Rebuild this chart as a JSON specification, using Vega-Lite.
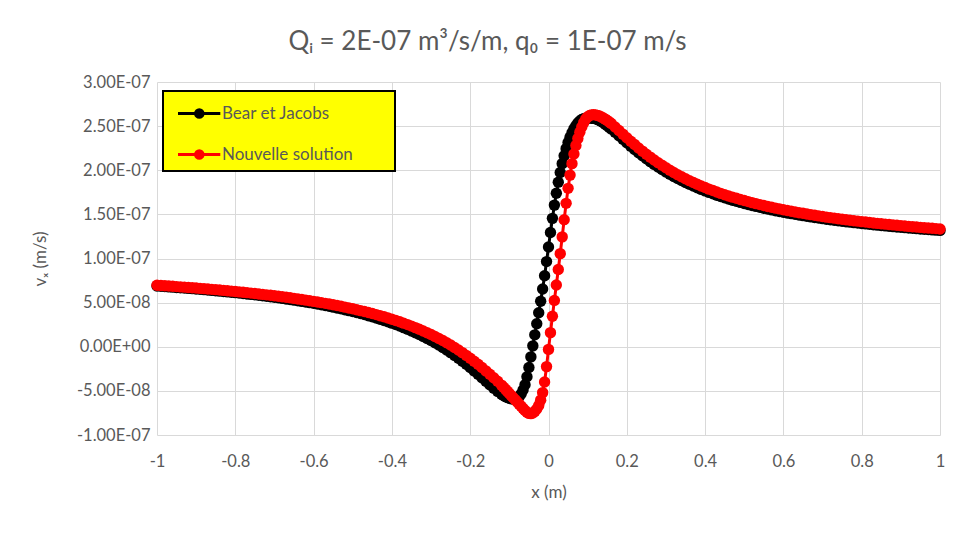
{
"$schema": "https://vega.github.io/schema/vega-lite/v6.json",
"width": 783,
"height": 353,
"autosize": {"type": "none"},
"padding": {"left": 157, "top": 82, "right": 19, "bottom": 105},
"background": "white",
"config": {"view": {"stroke": null}, "font": "Lato"},
"title": {"text": "Q\u1d62 = 2E-07 m\u00b3/s/m, q\u2080 = 1E-07 m/s", "fontSize": 26, "font": "Lato", "fontWeight": "normal", "color": "#595959", "anchor": "middle", "dx": -61, "offset": 19},
"data": {"values": [
{"x":-1,"b":6.879e-8,"r":6.967e-8},
{"x":-0.99,"b":6.848e-8,"r":6.939e-8},
{"x":-0.98,"b":6.817e-8,"r":6.909e-8},
{"x":-0.97,"b":6.785e-8,"r":6.879e-8},
{"x":-0.96,"b":6.753e-8,"r":6.848e-8},
{"x":-0.95,"b":6.720e-8,"r":6.817e-8},
{"x":-0.94,"b":6.686e-8,"r":6.785e-8},
{"x":-0.93,"b":6.652e-8,"r":6.753e-8},
{"x":-0.92,"b":6.616e-8,"r":6.720e-8},
{"x":-0.91,"b":6.581e-8,"r":6.686e-8},
{"x":-0.9,"b":6.544e-8,"r":6.652e-8},
{"x":-0.89,"b":6.506e-8,"r":6.616e-8},
{"x":-0.88,"b":6.468e-8,"r":6.581e-8},
{"x":-0.87,"b":6.429e-8,"r":6.544e-8},
{"x":-0.86,"b":6.389e-8,"r":6.506e-8},
{"x":-0.85,"b":6.348e-8,"r":6.468e-8},
{"x":-0.84,"b":6.306e-8,"r":6.429e-8},
{"x":-0.83,"b":6.264e-8,"r":6.389e-8},
{"x":-0.82,"b":6.220e-8,"r":6.348e-8},
{"x":-0.81,"b":6.175e-8,"r":6.306e-8},
{"x":-0.8,"b":6.129e-8,"r":6.264e-8},
{"x":-0.79,"b":6.082e-8,"r":6.220e-8},
{"x":-0.78,"b":6.034e-8,"r":6.175e-8},
{"x":-0.77,"b":5.985e-8,"r":6.129e-8},
{"x":-0.76,"b":5.935e-8,"r":6.082e-8},
{"x":-0.75,"b":5.883e-8,"r":6.034e-8},
{"x":-0.74,"b":5.830e-8,"r":5.985e-8},
{"x":-0.73,"b":5.776e-8,"r":5.935e-8},
{"x":-0.72,"b":5.720e-8,"r":5.883e-8},
{"x":-0.71,"b":5.663e-8,"r":5.830e-8},
{"x":-0.7,"b":5.604e-8,"r":5.776e-8},
{"x":-0.69,"b":5.544e-8,"r":5.720e-8},
{"x":-0.68,"b":5.482e-8,"r":5.663e-8},
{"x":-0.67,"b":5.418e-8,"r":5.604e-8},
{"x":-0.66,"b":5.353e-8,"r":5.544e-8},
{"x":-0.65,"b":5.286e-8,"r":5.482e-8},
{"x":-0.64,"b":5.216e-8,"r":5.418e-8},
{"x":-0.63,"b":5.145e-8,"r":5.353e-8},
{"x":-0.62,"b":5.072e-8,"r":5.286e-8},
{"x":-0.61,"b":4.996e-8,"r":5.216e-8},
{"x":-0.6,"b":4.919e-8,"r":5.145e-8},
{"x":-0.59,"b":4.838e-8,"r":5.072e-8},
{"x":-0.58,"b":4.756e-8,"r":4.996e-8},
{"x":-0.57,"b":4.670e-8,"r":4.919e-8},
{"x":-0.56,"b":4.583e-8,"r":4.838e-8},
{"x":-0.55,"b":4.492e-8,"r":4.756e-8},
{"x":-0.54,"b":4.398e-8,"r":4.670e-8},
{"x":-0.53,"b":4.301e-8,"r":4.583e-8},
{"x":-0.52,"b":4.201e-8,"r":4.492e-8},
{"x":-0.51,"b":4.097e-8,"r":4.398e-8},
{"x":-0.5,"b":3.990e-8,"r":4.301e-8},
{"x":-0.49,"b":3.879e-8,"r":4.201e-8},
{"x":-0.48,"b":3.764e-8,"r":4.097e-8},
{"x":-0.47,"b":3.645e-8,"r":3.990e-8},
{"x":-0.46,"b":3.521e-8,"r":3.879e-8},
{"x":-0.45,"b":3.393e-8,"r":3.764e-8},
{"x":-0.44,"b":3.260e-8,"r":3.645e-8},
{"x":-0.43,"b":3.121e-8,"r":3.521e-8},
{"x":-0.42,"b":2.977e-8,"r":3.393e-8},
{"x":-0.41,"b":2.828e-8,"r":3.260e-8},
{"x":-0.4,"b":2.672e-8,"r":3.121e-8},
{"x":-0.39,"b":2.511e-8,"r":2.977e-8},
{"x":-0.38,"b":2.342e-8,"r":2.828e-8},
{"x":-0.37,"b":2.166e-8,"r":2.672e-8},
{"x":-0.36,"b":1.983e-8,"r":2.511e-8},
{"x":-0.35,"b":1.792e-8,"r":2.342e-8},
{"x":-0.34,"b":1.592e-8,"r":2.166e-8},
{"x":-0.33,"b":1.384e-8,"r":1.983e-8},
{"x":-0.32,"b":1.166e-8,"r":1.792e-8},
{"x":-0.31,"b":0.938e-8,"r":1.592e-8},
{"x":-0.3,"b":0.700e-8,"r":1.384e-8},
{"x":-0.29,"b":0.451e-8,"r":1.166e-8},
{"x":-0.28,"b":0.191e-8,"r":0.938e-8},
{"x":-0.27,"b":-0.082e-8,"r":0.700e-8},
{"x":-0.26,"b":-0.367e-8,"r":0.451e-8},
{"x":-0.25,"b":-0.665e-8,"r":0.191e-8},
{"x":-0.24,"b":-0.976e-8,"r":-0.082e-8},
{"x":-0.23,"b":-1.301e-8,"r":-0.367e-8},
{"x":-0.22,"b":-1.639e-8,"r":-0.665e-8},
{"x":-0.21,"b":-1.991e-8,"r":-0.976e-8},
{"x":-0.2,"b":-2.355e-8,"r":-1.301e-8},
{"x":-0.19,"b":-2.732e-8,"r":-1.639e-8},
{"x":-0.18,"b":-3.119e-8,"r":-1.991e-8},
{"x":-0.17,"b":-3.513e-8,"r":-2.355e-8},
{"x":-0.16,"b":-3.910e-8,"r":-2.732e-8},
{"x":-0.15,"b":-4.306e-8,"r":-3.119e-8},
{"x":-0.14,"b":-4.691e-8,"r":-3.513e-8},
{"x":-0.13,"b":-5.055e-8,"r":-3.910e-8},
{"x":-0.12,"b":-5.383e-8,"r":-4.35e-8},
{"x":-0.115,"b":-5.527e-8,"r":-4.58e-8},
{"x":-0.11,"b":-5.654e-8,"r":-4.82e-8},
{"x":-0.105,"b":-5.761e-8,"r":-5.06e-8},
{"x":-0.1,"b":-5.843e-8,"r":-5.30e-8},
{"x":-0.095,"b":-5.896e-8,"r":-5.54e-8},
{"x":-0.09,"b":-5.915e-8,"r":-5.78e-8},
{"x":-0.085,"b":-5.894e-8,"r":-6.02e-8},
{"x":-0.08,"b":-5.82e-8,"r":-6.26e-8},
{"x":-0.075,"b":-5.65e-8,"r":-6.50e-8},
{"x":-0.07,"b":-5.35e-8,"r":-6.74e-8},
{"x":-0.065,"b":-4.90e-8,"r":-6.98e-8},
{"x":-0.06,"b":-4.30e-8,"r":-7.22e-8},
{"x":-0.055,"b":-3.40e-8,"r":-7.42e-8},
{"x":-0.05,"b":-2.35e-8,"r":-7.55e-8},
{"x":-0.045,"b":-1.15e-8,"r":-7.58e-8},
{"x":-0.04,"b":0.10e-8,"r":-7.50e-8},
{"x":-0.035,"b":1.35e-8,"r":-7.32e-8},
{"x":-0.03,"b":2.60e-8,"r":-7.05e-8},
{"x":-0.025,"b":3.85e-8,"r":-6.65e-8},
{"x":-0.02,"b":5.15e-8,"r":-6.05e-8},
{"x":-0.015,"b":6.55e-8,"r":-5.20e-8},
{"x":-0.01,"b":8.05e-8,"r":-4.00e-8},
{"x":-0.005,"b":9.65e-8,"r":-2.25e-8},
{"x":0,"b":11.30e-8,"r":-0.30e-8},
{"x":0.005,"b":12.95e-8,"r":1.60e-8},
{"x":0.01,"b":14.55e-8,"r":3.45e-8},
{"x":0.015,"b":16.05e-8,"r":5.25e-8},
{"x":0.02,"b":17.40e-8,"r":7.00e-8},
{"x":0.025,"b":18.65e-8,"r":8.75e-8},
{"x":0.03,"b":19.75e-8,"r":10.55e-8},
{"x":0.035,"b":20.75e-8,"r":12.45e-8},
{"x":0.04,"b":21.65e-8,"r":14.40e-8},
{"x":0.045,"b":22.45e-8,"r":16.25e-8},
{"x":0.05,"b":23.15e-8,"r":17.95e-8},
{"x":0.055,"b":23.75e-8,"r":19.45e-8},
{"x":0.06,"b":24.25e-8,"r":20.75e-8},
{"x":0.065,"b":24.70e-8,"r":21.85e-8},
{"x":0.07,"b":25.05e-8,"r":22.80e-8},
{"x":0.075,"b":25.35e-8,"r":23.60e-8},
{"x":0.08,"b":25.58e-8,"r":24.30e-8},
{"x":0.085,"b":25.75e-8,"r":24.90e-8},
{"x":0.09,"b":25.85e-8,"r":25.40e-8},
{"x":0.095,"b":25.90e-8,"r":25.80e-8},
{"x":0.1,"b":25.92e-8,"r":26.05e-8},
{"x":0.105,"b":25.92e-8,"r":26.20e-8},
{"x":0.11,"b":25.90e-8,"r":26.28e-8},
{"x":0.115,"b":25.896e-8,"r":26.30e-8},
{"x":0.12,"b":25.843e-8,"r":26.28e-8},
{"x":0.125,"b":25.761e-8,"r":26.22e-8},
{"x":0.13,"b":25.654e-8,"r":26.14e-8},
{"x":0.135,"b":25.527e-8,"r":26.04e-8},
{"x":0.14,"b":25.383e-8,"r":25.92e-8},
{"x":0.145,"b":25.224e-8,"r":25.79e-8},
{"x":0.15,"b":25.055e-8,"r":25.64e-8},
{"x":0.155,"b":24.876e-8,"r":25.48e-8},
{"x":0.16,"b":24.691e-8,"r":25.31e-8},
{"x":0.17,"b":24.306e-8,"r":24.91e-8},
{"x":0.18,"b":23.910e-8,"r":24.50e-8},
{"x":0.19,"b":23.513e-8,"r":24.09e-8},
{"x":0.2,"b":23.119e-8,"r":23.69e-8},
{"x":0.21,"b":22.732e-8,"r":23.29e-8},
{"x":0.22,"b":22.355e-8,"r":22.91e-8},
{"x":0.23,"b":21.991e-8,"r":22.53e-8},
{"x":0.24,"b":21.639e-8,"r":22.17e-8},
{"x":0.25,"b":21.301e-8,"r":21.82e-8},
{"x":0.26,"b":20.976e-8,"r":21.49e-8},
{"x":0.27,"b":20.665e-8,"r":21.17e-8},
{"x":0.28,"b":20.367e-8,"r":20.86e-8},
{"x":0.29,"b":20.082e-8,"r":20.56e-8},
{"x":0.3,"b":19.809e-8,"r":20.28e-8},
{"x":0.31,"b":19.549e-8,"r":20.01e-8},
{"x":0.32,"b":19.300e-8,"r":19.75e-8},
{"x":0.33,"b":19.062e-8,"r":19.50e-8},
{"x":0.34,"b":18.834e-8,"r":19.26e-8},
{"x":0.35,"b":18.616e-8,"r":19.04e-8},
{"x":0.36,"b":18.408e-8,"r":18.82e-8},
{"x":0.37,"b":18.208e-8,"r":18.61e-8},
{"x":0.38,"b":18.017e-8,"r":18.41e-8},
{"x":0.39,"b":17.834e-8,"r":18.22e-8},
{"x":0.4,"b":17.658e-8,"r":18.04e-8},
{"x":0.41,"b":17.489e-8,"r":17.86e-8},
{"x":0.42,"b":17.328e-8,"r":17.70e-8},
{"x":0.43,"b":17.172e-8,"r":17.54e-8},
{"x":0.44,"b":17.023e-8,"r":17.38e-8},
{"x":0.45,"b":16.879e-8,"r":17.23e-8},
{"x":0.46,"b":16.740e-8,"r":17.09e-8},
{"x":0.47,"b":16.607e-8,"r":16.95e-8},
{"x":0.48,"b":16.479e-8,"r":16.82e-8},
{"x":0.49,"b":16.355e-8,"r":16.69e-8},
{"x":0.5,"b":16.236e-8,"r":16.57e-8},
{"x":0.51,"b":16.121e-8,"r":16.45e-8},
{"x":0.52,"b":16.010e-8,"r":16.33e-8},
{"x":0.53,"b":15.903e-8,"r":16.22e-8},
{"x":0.54,"b":15.799e-8,"r":16.11e-8},
{"x":0.55,"b":15.699e-8,"r":16.00e-8},
{"x":0.56,"b":15.602e-8,"r":15.90e-8},
{"x":0.57,"b":15.508e-8,"r":15.80e-8},
{"x":0.58,"b":15.417e-8,"r":15.71e-8},
{"x":0.59,"b":15.330e-8,"r":15.62e-8},
{"x":0.6,"b":15.244e-8,"r":15.52e-8},
{"x":0.61,"b":15.162e-8,"r":15.44e-8},
{"x":0.62,"b":15.081e-8,"r":15.35e-8},
{"x":0.63,"b":15.004e-8,"r":15.27e-8},
{"x":0.64,"b":14.928e-8,"r":15.19e-8},
{"x":0.65,"b":14.855e-8,"r":15.12e-8},
{"x":0.66,"b":14.784e-8,"r":15.04e-8},
{"x":0.67,"b":14.714e-8,"r":14.97e-8},
{"x":0.68,"b":14.647e-8,"r":14.90e-8},
{"x":0.69,"b":14.582e-8,"r":14.83e-8},
{"x":0.7,"b":14.518e-8,"r":14.76e-8},
{"x":0.71,"b":14.456e-8,"r":14.69e-8},
{"x":0.72,"b":14.396e-8,"r":14.63e-8},
{"x":0.73,"b":14.337e-8,"r":14.57e-8},
{"x":0.74,"b":14.280e-8,"r":14.51e-8},
{"x":0.75,"b":14.224e-8,"r":14.45e-8},
{"x":0.76,"b":14.170e-8,"r":14.39e-8},
{"x":0.77,"b":14.117e-8,"r":14.34e-8},
{"x":0.78,"b":14.065e-8,"r":14.28e-8},
{"x":0.79,"b":14.015e-8,"r":14.23e-8},
{"x":0.8,"b":13.966e-8,"r":14.18e-8},
{"x":0.81,"b":13.918e-8,"r":14.13e-8},
{"x":0.82,"b":13.871e-8,"r":14.08e-8},
{"x":0.83,"b":13.825e-8,"r":14.03e-8},
{"x":0.84,"b":13.780e-8,"r":13.98e-8},
{"x":0.85,"b":13.736e-8,"r":13.94e-8},
{"x":0.86,"b":13.694e-8,"r":13.89e-8},
{"x":0.87,"b":13.652e-8,"r":13.85e-8},
{"x":0.88,"b":13.611e-8,"r":13.81e-8},
{"x":0.89,"b":13.571e-8,"r":13.76e-8},
{"x":0.9,"b":13.532e-8,"r":13.72e-8},
{"x":0.91,"b":13.494e-8,"r":13.68e-8},
{"x":0.92,"b":13.456e-8,"r":13.64e-8},
{"x":0.93,"b":13.419e-8,"r":13.60e-8},
{"x":0.94,"b":13.384e-8,"r":13.57e-8},
{"x":0.95,"b":13.348e-8,"r":13.53e-8},
{"x":0.96,"b":13.314e-8,"r":13.49e-8},
{"x":0.97,"b":13.280e-8,"r":13.46e-8},
{"x":0.98,"b":13.247e-8,"r":13.42e-8},
{"x":0.99,"b":13.215e-8,"r":13.39e-8},
{"x":1,"b":13.183e-8,"r":13.35e-8}
]},
"encoding": {
  "x": {"field": "x", "type": "quantitative",
    "scale": {"domain": [-1, 1], "nice": false, "zero": false},
    "axis": {"title": "x (m)", "values": [-1,-0.8,-0.6,-0.4,-0.2,0,0.2,0.4,0.6,0.8,1],
      "labelExpr": "toString(datum.value)", "labelFlush": false, "labelOverlap": false,
      "labelFont": "Lato", "labelFontSize": 16.5, "labelColor": "#595959", "labelPadding": 18,
      "ticks": false, "domain": false, "grid": true, "gridColor": "#d9d9d9", "gridWidth": 1,
      "titleFont": "Lato", "titleFontSize": 17, "titleColor": "#595959", "titleFontWeight": "normal", "titlePadding": 15}}
},
"layer": [
  {"mark": {"type": "line", "strokeWidth": 3, "point": {"filled": true, "size": 130, "opacity": 1}},
   "encoding": {
     "y": {"field": "b", "type": "quantitative",
       "scale": {"domain": [-1e-7, 3e-7], "nice": false, "zero": false},
       "axis": {"title": "v\u2093 (m/s)", "values": [-1e-7,-5e-8,0,5e-8,1e-7,1.5e-7,2e-7,2.5e-7,3e-7],
         "labelExpr": "replace(replace(replace(format(datum.value, '.2e'), '\u2212', '-'), 'e-', 'E-0'), 'e+', 'E+0')",
         "labelFlush": false, "labelOverlap": false,
         "labelFont": "Lato", "labelFontSize": 16.5, "labelColor": "#595959", "labelPadding": 7,
         "ticks": false, "domain": false, "grid": true, "gridColor": "#d9d9d9", "gridWidth": 1,
         "titleFont": "Lato", "titleFontSize": 17, "titleColor": "#595959", "titleFontWeight": "normal", "titlePadding": 27}},
     "color": {"datum": "Bear et Jacobs", "type": "nominal",
       "scale": {"domain": ["Bear et Jacobs", "Nouvelle solution"], "range": ["#000000", "#ff0000"]},
       "legend": {"title": null, "orient": "none", "legendX": 6, "legendY": 9, "direction": "vertical",
         "fillColor": "#ffff00", "strokeColor": "#000000", "padding": 6, "rowPadding": 14,
         "symbolType": "M-0.5,0L2.32,0M1.17,0A0.25,0.25 0 1,1 0.67,0A0.25,0.25 0 1,1 1.17,0Z",
         "symbolSize": 900, "symbolStrokeWidth": 3, "labelOffset": 20,
         "labelFont": "Lato", "labelFontSize": 17, "labelColor": "#595959", "labelLimit": 300,
         "labelExpr": "datum.label + '\u2800\u2800\u2800'",
         "encode": {"legend": {"update": {"strokeWidth": {"value": 2}}},
           "symbols": {"update": {"fill": {"scale": "color", "field": "value"}, "stroke": {"scale": "color", "field": "value"}, "opacity": {"value": 1}}}}}}
   }},
  {"mark": {"type": "line", "strokeWidth": 3, "point": {"filled": true, "size": 130, "opacity": 1}},
   "encoding": {
     "y": {"field": "r", "type": "quantitative",
       "scale": {"domain": [-1e-7, 3e-7], "nice": false, "zero": false},
       "axis": {"title": "v\u2093 (m/s)", "values": [-1e-7,-5e-8,0,5e-8,1e-7,1.5e-7,2e-7,2.5e-7,3e-7],
         "labelExpr": "replace(replace(replace(format(datum.value, '.2e'), '\u2212', '-'), 'e-', 'E-0'), 'e+', 'E+0')",
         "labelFlush": false, "labelOverlap": false,
         "labelFont": "Lato", "labelFontSize": 16.5, "labelColor": "#595959", "labelPadding": 7,
         "ticks": false, "domain": false, "grid": true, "gridColor": "#d9d9d9", "gridWidth": 1,
         "titleFont": "Lato", "titleFontSize": 17, "titleColor": "#595959", "titleFontWeight": "normal", "titlePadding": 27}},
     "color": {"datum": "Nouvelle solution", "type": "nominal",
       "scale": {"domain": ["Bear et Jacobs", "Nouvelle solution"], "range": ["#000000", "#ff0000"]},
       "legend": {"title": null, "orient": "none", "legendX": 6, "legendY": 9, "direction": "vertical",
         "fillColor": "#ffff00", "strokeColor": "#000000", "padding": 6, "rowPadding": 14,
         "symbolType": "M-0.5,0L2.32,0M1.17,0A0.25,0.25 0 1,1 0.67,0A0.25,0.25 0 1,1 1.17,0Z",
         "symbolSize": 900, "symbolStrokeWidth": 3, "labelOffset": 20,
         "labelFont": "Lato", "labelFontSize": 17, "labelColor": "#595959", "labelLimit": 300,
         "labelExpr": "datum.label + '\u2800\u2800\u2800'",
         "encode": {"legend": {"update": {"strokeWidth": {"value": 2}}},
           "symbols": {"update": {"fill": {"scale": "color", "field": "value"}, "stroke": {"scale": "color", "field": "value"}, "opacity": {"value": 1}}}}}}
   }}
]
}
